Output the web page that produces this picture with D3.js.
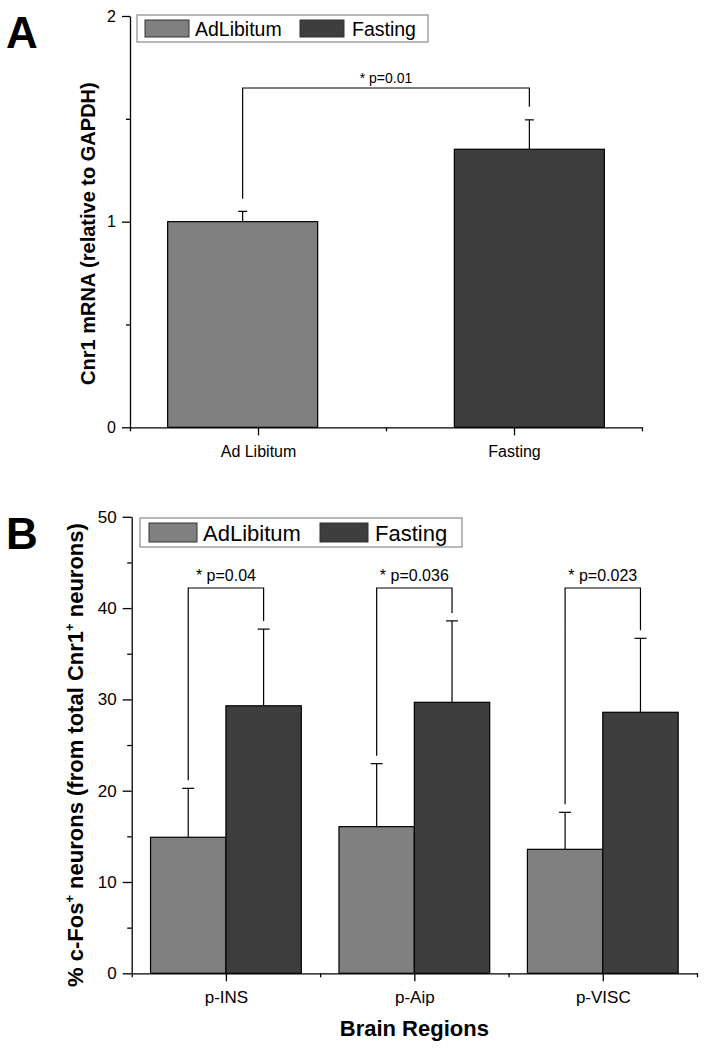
<!DOCTYPE html>
<html>
<head>
<meta charset="utf-8">
<script src="https://cdn.jsdelivr.net/npm/d3@7"></script>
<style>
  html, body { margin: 0; padding: 0; background: #fff; }
  svg { display: block; font-family: "Liberation Sans", Arial, sans-serif; }
</style>
</head>
<body>
<svg id="chart" width="708" height="1050"></svg>
<script>
// ---------------- DATA ----------------
// Panel A
const categoriesA = ["Ad Libitum", "Fasting"];
const seriesNames = ["AdLibitum", "Fasting"];
const valuesA = [1.0, 1.352];
const errorsA = [0.05, 0.143];
const yTicksA = [0, 1, 2];
const yMinorTicksA = [0.5, 1.5];
const pLabelA = "* p=0.01";
const bracketTopA = 1.65;

// Panel B
const regionsB = ["p-INS", "p-Aip", "p-VISC"];
const adLibitumB = [14.9, 16.06, 13.58];
const adLibitumErrB = [5.36, 6.9, 4.05];
const fastingB = [29.3, 29.68, 28.59];
const fastingErrB = [8.4, 8.92, 8.1];
const yTicksB = [0, 10, 20, 30, 40, 50];
const yMinorTicksB = [5, 15, 25, 35, 45];
const pLabelsB = ["* p=0.04", "* p=0.036", "* p=0.023"];
const bracketTopB = [42.2, 42.2, 42.2];

const colors = ["#808080", "#3e3e3e"];

// ---------------- DRAW ----------------
const svg = d3.select("#chart");

function styleAxis(g) {
  g.selectAll("path, line").attr("stroke", "#000").attr("stroke-width", 1.3);
  g.selectAll("text").attr("fill", "#000").style("font-family", '"Liberation Sans", Arial, sans-serif');
}

// ===== Panel A =====
const xA = d3.scaleLinear().domain([0.5, 2.5]).range([130, 642]);
const yA = d3.scaleLinear().domain([0, 2]).range([427.3, 16]);
const barOffsetA = [-0.06, 0.06];
const barWidthA = 0.586;

svg.append("text").attr("x", 6).attr("y", 48).attr("font-size", 44).attr("font-weight", "bold").text("A");

// bars
const gA = svg.append("g");
valuesA.forEach((v, i) => {
  const cx = xA(i + 1 + barOffsetA[i]);
  const w = xA(barWidthA) - xA(0);
  gA.append("rect")
    .attr("x", cx - w / 2).attr("y", yA(v))
    .attr("width", w).attr("height", yA(0) - yA(v))
    .attr("fill", colors[i]).attr("stroke", "#000").attr("stroke-width", 1.2);
  // error bar
  gA.append("line").attr("x1", cx).attr("x2", cx).attr("y1", yA(v)).attr("y2", yA(v + errorsA[i]))
    .attr("stroke", "#000").attr("stroke-width", 1.2);
  gA.append("line").attr("x1", cx - 4.5).attr("x2", cx + 4.5).attr("y1", yA(v + errorsA[i])).attr("y2", yA(v + errorsA[i]))
    .attr("stroke", "#000").attr("stroke-width", 1.2);
});
// bracket A
{
  const x1 = xA(1 + barOffsetA[0]), x2 = xA(2 + barOffsetA[1]);
  const yTop = yA(bracketTopA);
  const yL = yA(valuesA[0] + errorsA[0]) - 12.5;
  const yR = yA(valuesA[1] + errorsA[1]) - 13;
  gA.append("path").attr("d", `M${x1},${yL}V${yTop}H${x2}V${yR}`)
    .attr("fill", "none").attr("stroke", "#000").attr("stroke-width", 1.2);
  gA.append("text").attr("x", (x1 + x2) / 2).attr("y", yTop - 5).attr("text-anchor", "middle")
    .attr("font-size", 14).text(pLabelA);
}

// axes A
const yAxisA = svg.append("g").attr("transform", `translate(${xA(0.5)},0)`)
  .call(d3.axisLeft(yA).tickValues(yTicksA).tickSize(8).tickSizeOuter(0).tickPadding(6).tickFormat(d3.format("d")));
yAxisA.selectAll("text").attr("font-size", 16);
styleAxis(yAxisA);
const yAxisAm = svg.append("g").attr("transform", `translate(${xA(0.5)},0)`)
  .call(d3.axisLeft(yA).tickValues(yMinorTicksA).tickSize(4).tickSizeOuter(0).tickFormat(""));
yAxisAm.select(".domain").remove();
styleAxis(yAxisAm);

const xAxisA = svg.append("g").attr("transform", `translate(0,${yA(0)})`)
  .call(d3.axisBottom(xA).tickValues([1, 2]).tickSize(8).tickSizeOuter(0).tickPadding(10)
    .tickFormat(d => categoriesA[d - 1]));
xAxisA.selectAll("text").attr("font-size", 16);
styleAxis(xAxisA);
const xAxisAm = svg.append("g").attr("transform", `translate(0,${yA(0)})`)
  .call(d3.axisBottom(xA).tickValues([0.5, 1.5, 2.5]).tickSize(4).tickSizeOuter(0).tickFormat(""));
xAxisAm.select(".domain").remove();
styleAxis(xAxisAm);

svg.append("text")
  .attr("transform", `translate(95,${(yA(0) + yA(2)) / 2 + 12}) rotate(-90)`)
  .attr("text-anchor", "middle").attr("font-size", 20).attr("font-weight", "bold")
  .text("Cnr1 mRNA (relative to GAPDH)");

// legend A
{
  const lg = svg.append("g");
  lg.append("rect").attr("x", 137).attr("y", 15).attr("width", 291).attr("height", 27)
    .attr("fill", "#fff").attr("stroke", "#8a8a8a").attr("stroke-width", 1.2);
  const sx = [145, 300], tx = [195, 352];
  seriesNames.forEach((n, i) => {
    lg.append("rect").attr("x", sx[i]).attr("y", 20).attr("width", 44).attr("height", 17)
      .attr("fill", colors[i]).attr("stroke", "#333").attr("stroke-width", 1);
    lg.append("text").attr("x", tx[i]).attr("y", 36).attr("font-size", 19.5).text(n);
  });
}

// ===== Panel B =====
const xB = d3.scaleLinear().domain([0.5, 3.5]).range([131.7, 697]);
const yB = d3.scaleLinear().domain([0, 50]).range([973.3, 516.8]);
const barWidthB = 0.4;

svg.append("text").attr("x", 6).attr("y", 549).attr("font-size", 44).attr("font-weight", "bold").text("B");

const gB = svg.append("g");
const seriesB = [
  { vals: adLibitumB, errs: adLibitumErrB, off: -barWidthB / 2 },
  { vals: fastingB, errs: fastingErrB, off: barWidthB / 2 }
];
seriesB.forEach((s, si) => {
  s.vals.forEach((v, i) => {
    const cx = xB(i + 1 + s.off);
    const w = xB(barWidthB) - xB(0);
    gB.append("rect")
      .attr("x", cx - w / 2).attr("y", yB(v))
      .attr("width", w).attr("height", yB(0) - yB(v))
      .attr("fill", colors[si]).attr("stroke", "#000").attr("stroke-width", 1.2);
    const e = s.errs[i];
    gB.append("line").attr("x1", cx).attr("x2", cx).attr("y1", yB(v)).attr("y2", yB(v + e))
      .attr("stroke", "#000").attr("stroke-width", 1.2);
    gB.append("line").attr("x1", cx - 6).attr("x2", cx + 6).attr("y1", yB(v + e)).attr("y2", yB(v + e))
      .attr("stroke", "#000").attr("stroke-width", 1.2);
  });
});
// brackets B
regionsB.forEach((r, i) => {
  const x1 = xB(i + 1 - barWidthB / 2), x2 = xB(i + 1 + barWidthB / 2);
  const yTop = yB(bracketTopB[i]);
  const yL = yB(adLibitumB[i] + adLibitumErrB[i]) - 8;
  const yR = yB(fastingB[i] + fastingErrB[i]) - 8;
  gB.append("path").attr("d", `M${x1},${yL}V${yTop}H${x2}V${yR}`)
    .attr("fill", "none").attr("stroke", "#000").attr("stroke-width", 1.2);
  gB.append("text").attr("x", (x1 + x2) / 2).attr("y", yTop - 7).attr("text-anchor", "middle")
    .attr("font-size", 16).text(pLabelsB[i]);
});

const yAxisB = svg.append("g").attr("transform", `translate(${xB(0.5)},0)`)
  .call(d3.axisLeft(yB).tickValues(yTicksB).tickSize(9).tickSizeOuter(0).tickPadding(6).tickFormat(d3.format("d")));
yAxisB.selectAll("text").attr("font-size", 17);
styleAxis(yAxisB);
const yAxisBm = svg.append("g").attr("transform", `translate(${xB(0.5)},0)`)
  .call(d3.axisLeft(yB).tickValues(yMinorTicksB).tickSize(4.5).tickSizeOuter(0).tickFormat(""));
yAxisBm.select(".domain").remove();
styleAxis(yAxisBm);

const xAxisB = svg.append("g").attr("transform", `translate(0,${yB(0)})`)
  .call(d3.axisBottom(xB).tickValues([1, 2, 3]).tickSize(8).tickSizeOuter(0).tickPadding(10)
    .tickFormat(d => regionsB[d - 1]));
xAxisB.selectAll("text").attr("font-size", 17);
styleAxis(xAxisB);
const xAxisBm = svg.append("g").attr("transform", `translate(0,${yB(0)})`)
  .call(d3.axisBottom(xB).tickValues([0.5, 1.5, 2.5, 3.5]).tickSize(4).tickSizeOuter(0).tickFormat(""));
xAxisBm.select(".domain").remove();
styleAxis(xAxisBm);

svg.append("text").attr("x", (xB(0.5) + xB(3.5)) / 2).attr("y", 1036)
  .attr("text-anchor", "middle").attr("font-size", 22).attr("font-weight", "bold").text("Brain Regions");

{
  const t = svg.append("text")
    .attr("transform", `translate(83,${(yB(0) + yB(50)) / 2 + 10}) rotate(-90)`)
    .attr("text-anchor", "middle").attr("font-size", 22).attr("font-weight", "bold");
  t.append("tspan").text("% c-Fos");
  t.append("tspan").attr("font-size", 13).attr("dy", -9).text("+");
  t.append("tspan").attr("dy", 9).text(" neurons (from total Cnr1");
  t.append("tspan").attr("font-size", 13).attr("dy", -9).text("+");
  t.append("tspan").attr("dy", 9).text(" neurons)");
}

// legend B
{
  const lg = svg.append("g");
  lg.append("rect").attr("x", 140).attr("y", 518).attr("width", 322).attr("height", 29)
    .attr("fill", "#fff").attr("stroke", "#8a8a8a").attr("stroke-width", 1.2);
  const sx = [149, 320], tx = [203, 375];
  seriesNames.forEach((n, i) => {
    lg.append("rect").attr("x", sx[i]).attr("y", 523).attr("width", 48).attr("height", 19)
      .attr("fill", colors[i]).attr("stroke", "#333").attr("stroke-width", 1);
    lg.append("text").attr("x", tx[i]).attr("y", 541).attr("font-size", 22).text(n);
  });
}
</script>
</body>
</html>
